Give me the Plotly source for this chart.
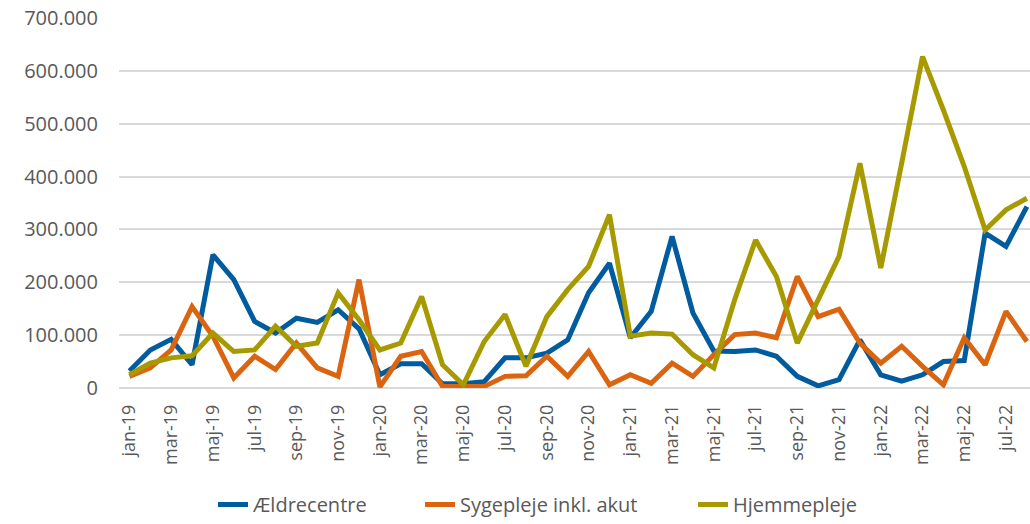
import plotly.graph_objects as go

months = ["jan", "feb", "mar", "apr", "maj", "jun", "jul", "aug", "sep", "okt", "nov", "dec"]
categories = [f"{m}-{y}" for y in ["19", "20", "21", "22"] for m in months][:44]

aeldrecentre = [32000, 72000, 92000, 44000, 252000, 205000, 126000, 104000, 132000, 124000, 148000, 112000,
                25000, 46000, 46000, 8000, 8000, 12000, 57000, 57000, 66000, 91000, 180000, 236000,
                95000, 145000, 287000, 142000, 70000, 69000, 72000, 60000, 22000, 4000, 16000, 91000,
                25000, 13000, 25000, 50000, 52000, 293000, 268000, 343000]
sygepleje = [22000, 38000, 72000, 154000, 98000, 19000, 60000, 35000, 85000, 38000, 22000, 205000,
             2000, 60000, 69000, 3000, 3000, 3000, 22000, 23000, 60000, 22000, 69000, 6000,
             25000, 9000, 47000, 22000, 63000, 101000, 104000, 95000, 211000, 135000, 149000, 85000,
             47000, 79000, 41000, 6000, 95000, 44000, 145000, 88000]
hjemmepleje = [25000, 47000, 57000, 61000, 104000, 69000, 72000, 117000, 79000, 85000, 180000, 129000,
               72000, 85000, 173000, 44000, 6000, 88000, 139000, 41000, 135000, 186000, 230000, 328000,
               98000, 104000, 102000, 63000, 38000, 167000, 280000, 211000, 85000, 167000, 249000, 425000,
               227000, 425000, 627000, 526000, 419000, 299000, 337000, 359000]

series = [
    ("Ældrecentre", aeldrecentre, "#005B9F", "legend", 213),
    ("Sygepleje inkl. akut", sygepleje, "#DA6410", "legend2", 420),
    ("Hjemmepleje", hjemmepleje, "#A79A00", "legend3", 693),
]

fig = go.Figure()
for name, vals, color, leg, _ in series:
    fig.add_trace(go.Scatter(x=categories, y=vals, name=name, mode="lines",
                             line=dict(color=color, width=5), legend=leg))

font_family = "Open Sans, Lato, sans-serif"
legend_common = dict(orientation="h", xref="container", xanchor="left",
                     yref="container", y=0.0, yanchor="bottom",
                     font=dict(size=20, color="#595959"), bgcolor="rgba(0,0,0,0)")
legends = {leg: dict(legend_common, x=px / 1030) for _, _, _, leg, px in series}

fig.update_layout(
    width=1030, height=524,
    margin=dict(l=119, r=0, t=18, b=136, autoexpand=False),
    paper_bgcolor="white", plot_bgcolor="white",
    separators=",.",
    font=dict(family=font_family, color="#595959"),
    showlegend=True,
    **legends,
    xaxis=dict(type="category", range=[-0.5, 43.15], tickangle=-90, automargin=False,
               tickvals=categories[::2], ticktext=categories[::2],
               tickfont=dict(size=18, color="#595959"), showgrid=False,
               showline=False, zeroline=False, ticks="", ticklabelstandoff=12),
    yaxis=dict(range=[0, 700000], dtick=100000, tickformat=",d", automargin=False,
               tickfont=dict(size=20, color="#595959"), showgrid=True,
               gridcolor="#D9D9D9", gridwidth=1.5, zeroline=True,
               zerolinecolor="#D9D9D9", zerolinewidth=1.5, ticks="", ticklabelstandoff=20),
)

fig.write_html("out.html", config={"displayModeBar": False},
               post_script="document.body.style.margin='0';document.body.style.overflow='hidden';")
